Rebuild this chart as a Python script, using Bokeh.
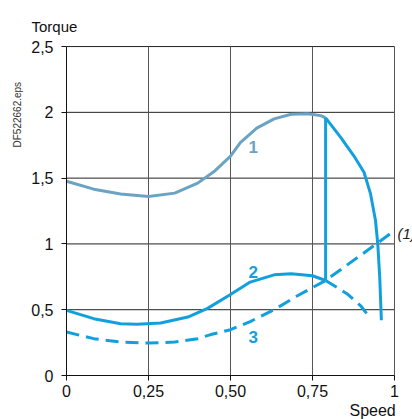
from bokeh.plotting import figure
from bokeh.embed import file_html
from bokeh.resources import INLINE
from bokeh.models import Label, FixedTicker, Title

# ---- data ----
c1_x = [0.0, 0.083, 0.165, 0.25, 0.33, 0.40, 0.45, 0.50, 0.53, 0.58, 0.633, 0.685, 0.735, 0.775, 0.79]
c1_y = [1.476, 1.416, 1.379, 1.36, 1.386, 1.462, 1.55, 1.667, 1.77, 1.88, 1.95, 1.985, 1.99, 1.975, 1.958]

c2_x = [0.0, 0.083, 0.165, 0.215, 0.287, 0.37, 0.43, 0.50, 0.56, 0.633, 0.685, 0.75, 0.79]
c2_y = [0.495, 0.432, 0.394, 0.389, 0.399, 0.444, 0.51, 0.615, 0.71, 0.765, 0.773, 0.758, 0.722]

c2d_x = [0.79, 0.856, 0.897, 0.92]
c2d_y = [0.722, 0.62, 0.53, 0.455]

c3_x = [0.0, 0.083, 0.165, 0.25, 0.33, 0.40, 0.44, 0.50, 0.56, 0.633, 0.70, 0.79, 0.85, 0.90, 0.95, 0.988]
c3_y = [0.33, 0.28, 0.254, 0.247, 0.254, 0.28, 0.311, 0.348, 0.41, 0.50, 0.60, 0.722, 0.83, 0.92, 1.01, 1.08]

vert_x = [0.79, 0.79]
vert_y = [0.722, 1.958]

fall_x = [0.79, 0.836, 0.876, 0.907, 0.927, 0.942, 0.949, 0.955, 0.96]
fall_y = [1.958, 1.81, 1.67, 1.545, 1.38, 1.18, 1.0, 0.745, 0.42]

x_ticks = [0, 0.25, 0.5, 0.75, 1]
x_labels = ["0", "0,25", "0,50", "0,75", "1"]
y_ticks = [0, 0.5, 1, 1.5, 2, 2.5]
y_labels = ["0", "0,5", "1", "1,5", "2", "2,5"]

FONT = "Liberation Sans"
C1 = "#6aa3c3"
C2 = "#12a0dd"

p = figure(width=412, height=419, x_range=(0, 1.0549), y_range=(0, 2.508),
           output_backend="svg", toolbar_location=None,
           min_border_left=66, min_border_right=0, min_border_top=45, min_border_bottom=44)
p.outline_line_color = None
p.background_fill_color = "white"
p.xgrid.visible = False
p.ygrid.visible = False

p.xaxis.ticker = FixedTicker(ticks=x_ticks)
p.yaxis.ticker = FixedTicker(ticks=y_ticks)
p.xaxis.major_label_overrides = {t: l for t, l in zip(x_ticks, x_labels)}
p.yaxis.major_label_overrides = {t: l for t, l in zip(y_ticks, y_labels)}
p.xaxis.bounds = (0, 1)
p.yaxis.bounds = (0, 2.5)
for ax in (p.xaxis, p.yaxis):
    ax.axis_line_color = "#111111"
    ax.axis_line_width = 1
    ax.major_tick_line_color = "#111111"
    ax.major_tick_in = 0
    ax.major_tick_out = 5
    ax.minor_tick_line_color = None
    ax.major_label_text_font = FONT
    ax.major_label_text_font_size = "16px"
    ax.major_label_text_color = "#111111"
p.xaxis.major_label_standoff = 4
p.yaxis.major_label_standoff = 8

# grid lines drawn from the tick arrays
p.segment(x0=[0] * len(y_ticks), y0=y_ticks, x1=[1] * len(y_ticks), y1=y_ticks,
          line_color="#222222", line_width=1)
p.segment(x0=x_ticks, y0=[0] * len(x_ticks), x1=x_ticks, y1=[2.5] * len(x_ticks),
          line_color="#555555", line_width=1)

p.line(c3_x, c3_y, line_color=C2, line_width=3, line_dash="13 7")
p.line(c2d_x, c2d_y, line_color=C2, line_width=3, line_dash="13 7")
p.line(c2_x, c2_y, line_color=C2, line_width=3, line_join="round")
p.line(c1_x, c1_y, line_color=C1, line_width=3, line_join="round")
p.line(vert_x, vert_y, line_color=C2, line_width=3)
p.line(fall_x, fall_y, line_color=C2, line_width=3, line_join="round")

for txt, xx, yy, col in [("1", 0.569, 1.738, C1), ("2", 0.569, 0.79, C2), ("3", 0.569, 0.29, C2)]:
    p.add_layout(Label(x=xx, y=yy, text=txt, text_color=col, text_font=FONT,
                       text_font_size="17px", text_font_style="bold",
                       text_align="center", text_baseline="middle"))

p.add_layout(Label(x=1.009, y=1.08, text="(1)", text_color="#222222", text_font=FONT,
                   text_font_size="15px", text_font_style="italic",
                   text_align="left", text_baseline="middle"))

p.add_layout(Title(text="Torque", align="left", offset=-35, standoff=21,
                   text_font=FONT, text_font_size="15px", text_font_style="normal",
                   text_color="#111111"), "above")
p.add_layout(Title(text="Speed", align="left", offset=283, standoff=0,
                   text_font=FONT, text_font_size="16px", text_font_style="normal",
                   text_color="#111111"), "below")
p.add_layout(Title(text="DF522662.eps", align="left", offset=228, standoff=12,
                   text_font=FONT, text_font_size="10px", text_font_style="normal",
                   text_color="#333333"), "left")

open("out.html", "w").write(file_html(p, INLINE))
